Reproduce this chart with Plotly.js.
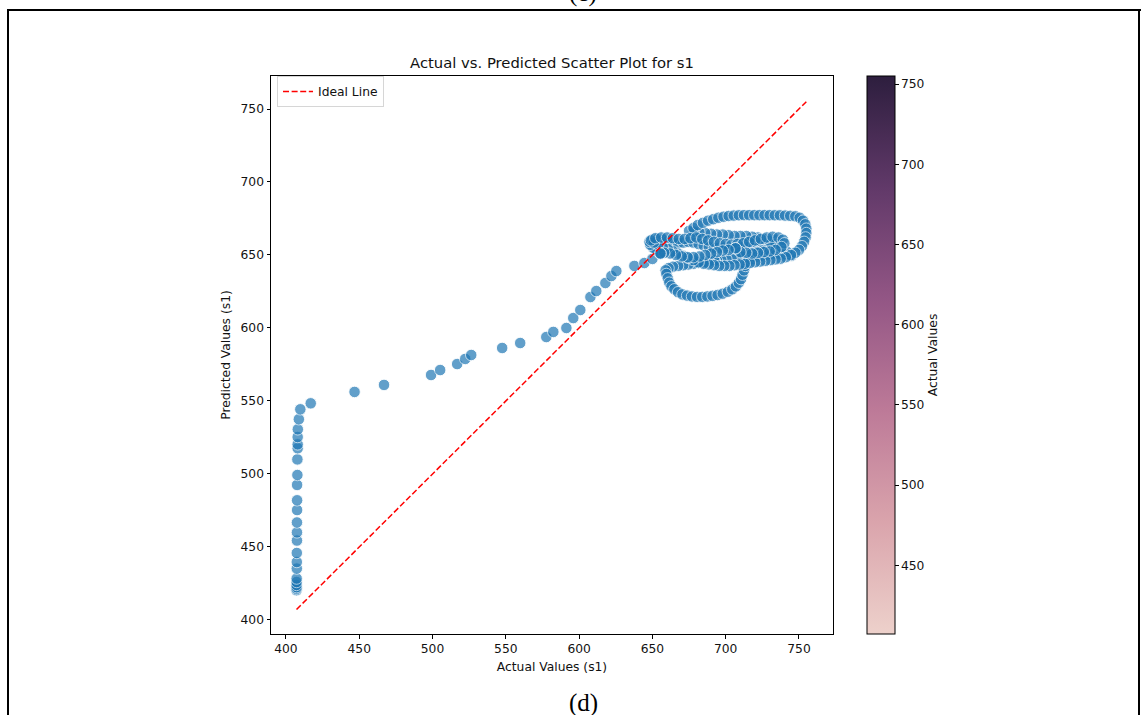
<!DOCTYPE html>
<html>
<head>
<meta charset="utf-8">
<script src="https://cdn.plot.ly/plotly-3.0.1.min.js"></script>
<style>
  html, body { margin: 0; padding: 0; background: #fff; }
  #wrap { position: relative; width: 1148px; height: 715px; overflow: hidden; }
  #chart { position: absolute; left: 0; top: 0; width: 1148px; height: 715px; }
  .frame { position: absolute; background: #000; z-index: 5; }
</style>
</head>
<body>
<div id="wrap">
  <div id="chart"></div>
  <div class="frame" style="left:7px; top:9px; width:1134px; height:2px;"></div>
  <div class="frame" style="left:7px; top:9px; width:2px; height:710px;"></div>
  <div class="frame" style="left:1138px; top:9px; width:2px; height:710px;"></div>
</div>
<script>
// ---- data ----
const chartTitle = "Actual vs. Predicted Scatter Plot for s1";
const xTitle = "Actual Values (s1)";
const yTitle = "Predicted Values (s1)";
const colorbarTitle = "Actual Values";
const legendName = "Ideal Line";

// vertical column at the start (actual ~407)
const colActual = [407.2,407.2,407.3,407.2,407.3,407.3,407.4,407.4,407.4,407.5,407.5,407.5,
                   407.6,407.6,407.6,407.8,407.8,408,408,408,408.1,408.8,409.8,416.9];
const colPred   = [420.4,421.5,422.5,424,426,428.4,435.2,439.7,445.9,454.4,460,466.8,
                   475.3,482,492.5,499.3,510,517.6,520.3,525.3,530.6,537.5,544.3,548.4];

// rising ramp
const rampActual = [446.8,466.9,499,505.2,516.8,522.3,526.4,547.5,559.8,577.6,582.4,591.3,
                    596,600.8,607.7,611.7,617.9,622,625.4,637.7,644.5,650];
const rampPred   = [556.2,561,567.8,571.2,575.3,578.8,581.5,586.3,589.7,593.8,597.3,600,
                    606.8,612.3,621.2,625.3,630.8,635.6,639,642.5,644.5,647.3];

// dense looping cluster
const loopActual = [
  655.5,655.5,655.5,653,650.5,648.5,648,650,653.5,657,
  660.5,664,667.5,671,674.5,678,681.5,685,688.5,692,
  695.5,699,702.5,706.7,706.7,706.7,710,713.5,717,720.5,
  724,727.5,731,734,736,735,732,728.5,725,721.5,
  718,714.5,711,707.5,704,700.5,697,694,692.3,692.3,
  692.3,688.5,685,681.5,678,674.5,671,667.5,664,661,
  659,659.5,660.5,661.5,663,665,667.5,670.5,673.7,677,
  680.5,684,687.5,691,694.5,698,701.5,704.5,707,709,
  710.5,711.5,712.5,713.5,715,717.5,720.5,724,727.5,731,
  734.5,738,741.5,745,742,738,734,730,726,722,
  718,714,710,706,702,698,694,690,686,682,
  678,675,678,681,684.5,688,691.5,695,698.5,702,
  705.5,709,712.5,716,719.5,723,726.5,730,733.5,737,
  740.5,744,747.5,750.5,752.8,754.3,755,755,754.5,753.5,
  752,750,747.5,744.5,741,737.5,734,730.5,727,723.5,
  720,716.5,713,709.5,706,702.5,699,695.5,692,688.5,
  685,681.5,678,674.5,671,667.5,664,660.5,657,654,
  651,649,652,656,660,664,668,672,676,680,
  684,688,692,696,700,704,708,712,716,720,
  724,728,732,736,739,740,738,734,730,726,
  722,718,714,710,706.7,706.7,702,698,694,690,
  686,682,678,674,670,666,662,658,655.5,655.5
];
const loopPred = [
  650.8,651,651.2,653,655,657,659,660.5,661,660.5,
  659.5,658.5,658,658.5,659,658.5,657.5,656.5,655.5,655,
  655,655,654.8,654.6,654.6,654.6,655.5,656.5,657.5,658.5,
  659.5,660,660.5,660,658.5,656.5,655,654,653,652,
  651,650,649,648,647.5,647,646.5,646.2,646.1,646.1,
  646.1,645.5,645,644.5,644,643.5,643,642.5,642,641,
  639.5,637,634,631,628.5,626.5,624.5,623,622.2,621.6,
  621.3,621.3,621.6,622,622.6,623.5,624.8,626.5,628.5,631,
  633.5,636.5,639.5,642.5,645,647,648.5,649.5,650,650.5,
  650.5,650.5,650,649.5,652,655,657.5,659.5,661,662,
  662.5,663,663,663,663.5,664,664,664.5,665,665.5,
  666,666.5,668.5,670.5,672,673.5,674.5,675.5,676.2,676.7,
  677,677.2,677.3,677.3,677.3,677.3,677.3,677.3,677.2,677.2,
  677,676.8,676.5,675.5,673.5,671,668,665,662,659,
  656,653.5,651.5,650,648.5,647.5,647,646.5,646,645.5,
  645,644.5,644,643.5,643,642.5,642.5,642.5,643,643.5,
  644,645,646.5,648,649.5,651,652.5,654,655.5,657,
  658.5,660,661.5,662,662,661.5,661,661,661.5,662,
  661,660,659,658,657.5,657,657.5,658,659,660,
  661,662,662.5,662,660.5,658,655.5,653.5,652.5,652,
  651.5,651,651.5,652,654.6,654.6,653.5,653,652,651,
  650,649,648.5,648.5,649,650,651,651.5,651,651
];

const xTicks = [400,450,500,550,600,650,700,750];
const yTicks = [400,450,500,550,600,650,700,750];
const cbTicks = [450,500,550,600,650,700,750];

// ---- build ----
const actual = colActual.concat(rampActual, loopActual);
const predicted = colPred.concat(rampPred, loopPred);
const minA = Math.min(...actual);
const maxA = Math.max(...actual);

const cubehelix = [
  [0.0, 'rgb(237,209,203)'],
  [0.2, 'rgb(218,164,172)'],
  [0.4, 'rgb(189,122,152)'],
  [0.6, 'rgb(147,86,133)'],
  [0.8, 'rgb(97,57,105)'],
  [1.0, 'rgb(45,30,62)']
];

const W = 1148, H = 715;
const plotL = 271, plotR = 833, plotT = 76, plotB = 634;
const pw = plotR - plotL, ph = plotB - plotT;
const font = {family: 'DejaVu Sans, sans-serif', size: 12.3, color: '#111'};

const traces = [
  {
    type: 'scatter', mode: 'markers',
    x: actual, y: predicted,
    showlegend: false, hoverinfo: 'x+y',
    marker: {size: 11.5, color: '#1f77b4', opacity: 0.7, line: {color: '#ffffff', width: 0.9}}
  },
  {
    type: 'scatter', mode: 'lines', name: legendName,
    x: [minA, maxA], y: [minA, maxA],
    line: {color: '#ff0000', width: 1.5, dash: '6px,2.6px'}
  },
  {
    type: 'scatter', mode: 'markers',
    x: [null], y: [null], showlegend: false, hoverinfo: 'skip',
    marker: {
      color: [minA], cmin: minA, cmax: maxA, colorscale: cubehelix, showscale: true,
      colorbar: {
        thickness: 28, thicknessmode: 'pixels',
        len: 1, lenmode: 'fraction',
        x: (867 - plotL) / pw, xref: 'paper', xanchor: 'left',
        y: 1, yref: 'paper', yanchor: 'top',
        xpad: 0, ypad: 0,
        outlinewidth: 1, outlinecolor: '#000',
        ticks: 'outside', ticklen: 3.5, tickwidth: 1, tickcolor: '#000',
        tickvals: cbTicks, tickfont: font,
        title: {text: colorbarTitle, side: 'right', font: font}
      }
    }
  }
];

const layout = {
  width: W, height: H,
  paper_bgcolor: '#fff', plot_bgcolor: '#fff',
  margin: {l: plotL, r: W - plotR, t: plotT, b: H - plotB, pad: 0, autoexpand: false},
  font: font,
  title: {
    text: chartTitle, font: {family: font.family, size: 14.8, color: '#111'},
    x: 0.5, xref: 'paper', xanchor: 'center',
    y: 1 - 63 / H, yref: 'container', yanchor: 'middle'
  },
  xaxis: {
    range: [389.8, 773.2], tickvals: xTicks, ticks: 'outside', ticklen: 3.5, tickwidth: 1, tickcolor: '#000',
    showline: true, mirror: true, linecolor: '#000', linewidth: 1,
    showgrid: false, zeroline: false, tickfont: font, automargin: false,
    title: {text: xTitle, font: font, standoff: 7}
  },
  yaxis: {
    range: [390.4, 772.6], tickvals: yTicks, ticks: 'outside', ticklen: 3.5, tickwidth: 1, tickcolor: '#000',
    showline: true, mirror: true, linecolor: '#000', linewidth: 1,
    showgrid: false, zeroline: false, tickfont: font, automargin: false,
    title: {text: yTitle, font: font, standoff: 7}
  },
  legend: {
    x: 0.0107, y: 1.0, xanchor: 'left', yanchor: 'top',
    bgcolor: 'rgba(255,255,255,0.8)', bordercolor: '#d6d6d6', borderwidth: 1,
    font: font
  },
  annotations: [
    {text: '(d)', xref: 'paper', yref: 'paper', x: (583 - plotL) / pw, y: (plotB - 703) / ph,
     showarrow: false, xanchor: 'center', yanchor: 'middle',
     font: {family: 'Liberation Serif, Times New Roman, serif', size: 25, color: '#000'}},
    {text: '(c)', xref: 'paper', yref: 'paper', x: (583 - plotL) / pw, y: (plotB + 7) / ph,
     showarrow: false, xanchor: 'center', yanchor: 'middle',
     font: {family: 'Liberation Serif, Times New Roman, serif', size: 25, color: '#000'}}
  ]
};

Plotly.newPlot('chart', traces, layout, {displayModeBar: false, staticPlot: true});
</script>
</body>
</html>
